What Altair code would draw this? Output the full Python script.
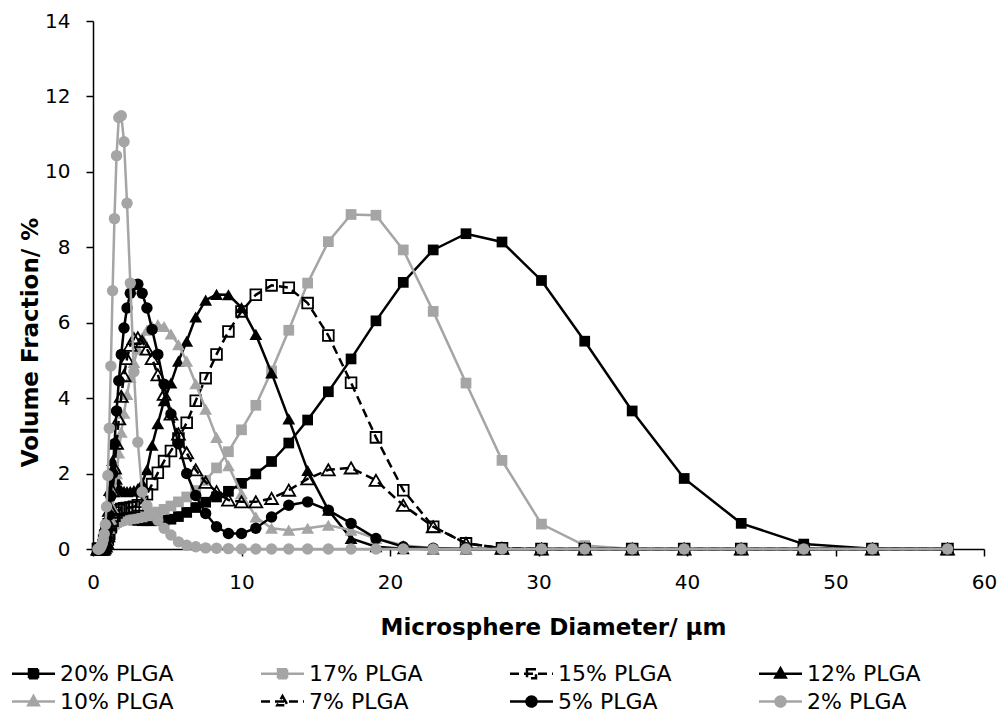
import altair as alt
import pandas as pd

# Bin centres (microsphere diameter, µm)
DIAMETER = [0.331, 0.363, 0.398, 0.437, 0.479, 0.525, 0.575, 0.631, 0.692, 0.759, 0.832, 0.912,
            1.000, 1.096, 1.202, 1.318, 1.445, 1.585, 1.738, 1.905, 2.089, 2.291,
            2.512, 2.754, 3.020, 3.311, 3.631, 3.981, 4.365, 4.786, 5.248, 5.754,
            6.310, 6.918, 7.586, 8.318, 9.120, 10.000, 10.965, 12.023, 13.183, 14.454,
            15.849, 17.378, 19.055, 20.893, 22.909, 25.119, 27.542, 30.200, 33.113, 36.308,
            39.811, 43.652, 47.863, 52.481, 57.544]

SERIES = ["20% PLGA", "17% PLGA", "15% PLGA", "12% PLGA",
          "10% PLGA", "7% PLGA", "5% PLGA", "2% PLGA"]

VF_20 = [0, 0, 0, 0, 0, 0, 0.03, 0.12, 0.25, 0.38, 0.5, 0.6,
         0.68, 0.74, 0.78, 0.8, 0.8, 0.8, 0.8, 0.8, 0.8, 0.79,
         0.78, 0.77, 0.76, 0.75, 0.75, 0.75, 0.75, 0.76, 0.79, 0.86,
         0.97, 1.1, 1.24, 1.38, 1.53, 1.74, 1.99, 2.32, 2.81, 3.42,
         4.17, 5.04, 6.05, 7.07, 7.93, 8.36, 8.14, 7.12, 5.51, 3.66,
         1.87, 0.68, 0.13, 0.01, 0]
VF_17 = [0, 0, 0, 0, 0, 0, 0, 0.02, 0.05, 0.1, 0.18, 0.27,
         0.36, 0.45, 0.53, 0.6, 0.66, 0.7, 0.73, 0.75, 0.77, 0.78,
         0.8, 0.81, 0.83, 0.85, 0.88, 0.92, 0.98, 1.05, 1.14, 1.25,
         1.38, 1.55, 1.82, 2.15, 2.58, 3.16, 3.81, 4.72, 5.8, 7.05,
         8.15, 8.87, 8.85, 7.93, 6.3, 4.4, 2.35, 0.66, 0.09, 0,
         0, 0, 0, 0, 0]
VF_15 = [0, 0, 0, 0, 0, 0, 0, 0, 0, 0.03, 0.08, 0.15,
         0.25, 0.4, 0.58, 0.75, 0.88, 0.97, 1.03, 1.06, 1.08, 1.09,
         1.1, 1.12, 1.16, 1.25, 1.45, 1.72, 2.02, 2.33, 2.6, 2.93,
         3.35, 3.93, 4.53, 5.16, 5.77, 6.3, 6.74, 6.99, 6.93, 6.52,
         5.66, 4.41, 2.96, 1.56, 0.59, 0.15, 0.02, 0, 0, 0,
         0, 0, 0, 0, 0]
VF_12 = [0, 0, 0, 0, 0, 0, 0, 0, 0.05, 0.15, 0.3, 0.55,
         1.0, 1.55, 2.05, 2.35, 2.2, 1.85, 1.62, 1.55, 1.53, 1.52,
         1.53, 1.55, 1.6, 1.75, 2.1, 2.75, 3.32, 3.93, 4.4, 4.98,
         5.51, 6.15, 6.6, 6.75, 6.74, 6.4, 5.69, 4.67, 3.45, 2.08,
         1.03, 0.28, 0.06, 0.01, 0, 0, 0, 0, 0, 0,
         0, 0, 0, 0, 0]
VF_10 = [0, 0, 0, 0, 0, 0, 0, 0, 0.03, 0.08, 0.15, 0.25,
         0.38, 0.55, 0.8, 1.1, 1.5, 2.0, 2.55, 3.1, 3.6, 4.1,
         4.55, 4.95, 5.3, 5.6, 5.8, 5.9, 5.95, 5.9, 5.7, 5.42,
         4.98, 4.38, 3.71, 2.96, 2.21, 1.47, 0.85, 0.55, 0.5, 0.55,
         0.63, 0.5, 0.28, 0.1, 0.02, 0, 0, 0, 0, 0,
         0, 0, 0, 0, 0]
VF_7 = [0, 0, 0, 0, 0, 0, 0, 0, 0, 0.03, 0.08, 0.18,
        0.35, 0.65, 1.05, 1.55, 2.15, 2.8, 3.45, 4.05, 4.6, 5.05,
        5.4, 5.58, 5.6, 5.5, 5.3, 5.05, 4.62, 4.1, 3.58, 3.05,
        2.55, 2.1, 1.77, 1.52, 1.3, 1.25, 1.25, 1.34, 1.56, 1.86,
        2.1, 2.15, 1.82, 1.16, 0.59, 0.15, 0.02, 0, 0, 0,
        0, 0, 0, 0, 0]
VF_5 = [0, 0, 0, 0, 0, 0, 0, 0, 0, 0.03, 0.1, 0.25,
        0.5, 0.9, 1.4, 2.0, 2.79, 3.66, 4.46, 5.16, 5.86, 6.39,
        6.78, 7.0, 7.02, 6.78, 6.39, 5.82, 5.16, 4.37, 3.58, 2.79,
        2.0, 1.42, 0.94, 0.59, 0.41, 0.41, 0.55, 0.85, 1.16, 1.25,
        1.03, 0.68, 0.28, 0.06, 0.02, 0, 0, 0, 0, 0,
        0, 0, 0, 0, 0]
VF_2 = [0, 0, 0, 0.01, 0.03, 0.06, 0.1, 0.16, 0.25, 0.4, 0.65, 1.12,
        1.95, 3.2, 4.85, 6.85, 8.76, 10.43, 11.44, 11.49, 10.8, 9.17,
        7.05, 4.7, 2.83, 1.51, 1.15, 0.95, 0.76, 0.55, 0.37, 0.19,
        0.1, 0.06, 0.03, 0.02, 0.01, 0, 0, 0, 0, 0,
        0, 0, 0, 0, 0, 0, 0, 0, 0, 0,
        0, 0, 0, 0, 0]

VALUES = {"20% PLGA": VF_20, "17% PLGA": VF_17, "15% PLGA": VF_15, "12% PLGA": VF_12,
          "10% PLGA": VF_10, "7% PLGA": VF_7, "5% PLGA": VF_5, "2% PLGA": VF_2}

for s in SERIES:
    assert len(VALUES[s]) == len(DIAMETER), s

df = pd.DataFrame([{"series": s, "d": d, "v": v}
                   for s in SERIES for d, v in zip(DIAMETER, VALUES[s])])

BLACK = "#000000"
GREY = "#A5A5A5"
# colour, marker, filled, dashed
STYLE = {
    "20% PLGA": (BLACK, "square", True, False),
    "17% PLGA": (GREY, "square", True, False),
    "15% PLGA": (BLACK, "square", False, True),
    "12% PLGA": (BLACK, "triangle-up", True, False),
    "10% PLGA": (GREY, "triangle-up", True, False),
    "7% PLGA": (BLACK, "triangle-up", False, True),
    "5% PLGA": (BLACK, "circle", True, False),
    "2% PLGA": (GREY, "circle", True, False),
}
MARK_SIZE = {"square": 115, "triangle-up": 165, "circle": 130}
DASH = [9, 5]
SOLID = [1, 0]
LEGEND_PATH = {
    "square": "M-2.15,0H2.15M-0.45,-0.45H0.45V0.45H-0.45Z",
    "circle": "M-2.15,0H2.15M0.5,0A0.5,0.5,0,1,1,-0.5,0A0.5,0.5,0,1,1,0.5,0Z",
    "triangle-up": "M-2.15,0H2.15M0,-0.55L0.52,0.38H-0.52Z",
}

FONT = "DejaVu Sans"

x_enc = alt.X("d:Q", scale=alt.Scale(domain=[0, 60], nice=False),
              axis=alt.Axis(values=[0, 10, 20, 30, 40, 50, 60], labelFlush=False,
                            title="Microsphere Diameter/ µm",
                            titleX=460, titleY=78, titleBaseline="middle"))
y_enc = alt.Y("v:Q", scale=alt.Scale(domain=[0, 14], nice=False),
              axis=alt.Axis(values=[0, 2, 4, 6, 8, 10, 12, 14], labelFlush=False,
                            title="Volume Fraction/ %",
                            titleX=-63, titleY=321, titleBaseline="middle"))

layers = []
for name in SERIES:
    color, shape, filled, dashed = STYLE[name]
    sub = alt.Chart(df).transform_filter(alt.datum.series == name)
    lk = dict(color=color, strokeWidth=2.5, clip=False)
    if dashed:
        lk["strokeDash"] = DASH
    layers.append(sub.mark_line(**lk).encode(x=x_enc, y=y_enc))
    pk = dict(shape=shape, size=MARK_SIZE[shape], filled=filled, color=color,
              opacity=1, clip=False)
    if not filled:
        pk["strokeWidth"] = 1.8
    layers.append(sub.mark_point(**pk).encode(x=x_enc, y=y_enc))

leg = alt.Legend(orient="none", legendX=-71, legendY=641, columns=4, direction="horizontal",
                 columnPadding=82, rowPadding=5, symbolSize=400,
                 symbolStrokeWidth=2.5, labelOffset=15, labelFont=FONT,
                 labelFontSize=22, labelColor=BLACK, padding=0, title=None)

legend_layer = alt.Chart(df).transform_filter("datum.v < -100").mark_point(
    filled=True, opacity=1, strokeWidth=2.5).encode(
    x=x_enc, y=y_enc,
    stroke=alt.Stroke("series:N", scale=alt.Scale(domain=SERIES, range=[STYLE[s][0] for s in SERIES]),
                      legend=leg, title=None),
    fill=alt.Fill("series:N", scale=alt.Scale(domain=SERIES,
                  range=[STYLE[s][0] if STYLE[s][2] else "transparent" for s in SERIES]),
                  legend=leg, title=None),
    shape=alt.Shape("series:N", scale=alt.Scale(domain=SERIES,
                    range=[LEGEND_PATH[STYLE[s][1]] for s in SERIES]),
                    legend=leg, title=None),
    strokeDash=alt.StrokeDash("series:N", scale=alt.Scale(domain=SERIES,
                              range=[DASH if STYLE[s][3] else SOLID for s in SERIES]),
                              legend=leg, title=None),
)

chart = alt.layer(*layers, legend_layer).properties(
    width=891, height=528,
    autosize=alt.AutoSizeParams(type="none"),
    padding={"left": 85, "top": 13, "right": 14, "bottom": 165},
).configure_view(stroke=None).configure_axis(
    grid=False, domainColor=BLACK, domainWidth=1.5, tickColor=BLACK, tickWidth=1.5,
    tickSize=7, labelFont=FONT, labelFontSize=20, labelColor=BLACK, labelPadding=16,
    titleFont=FONT, titleFontSize=23, titleFontWeight="bold", titleColor=BLACK,
)

chart.save("out.html", embed_options={"renderer": "svg", "actions": False})
